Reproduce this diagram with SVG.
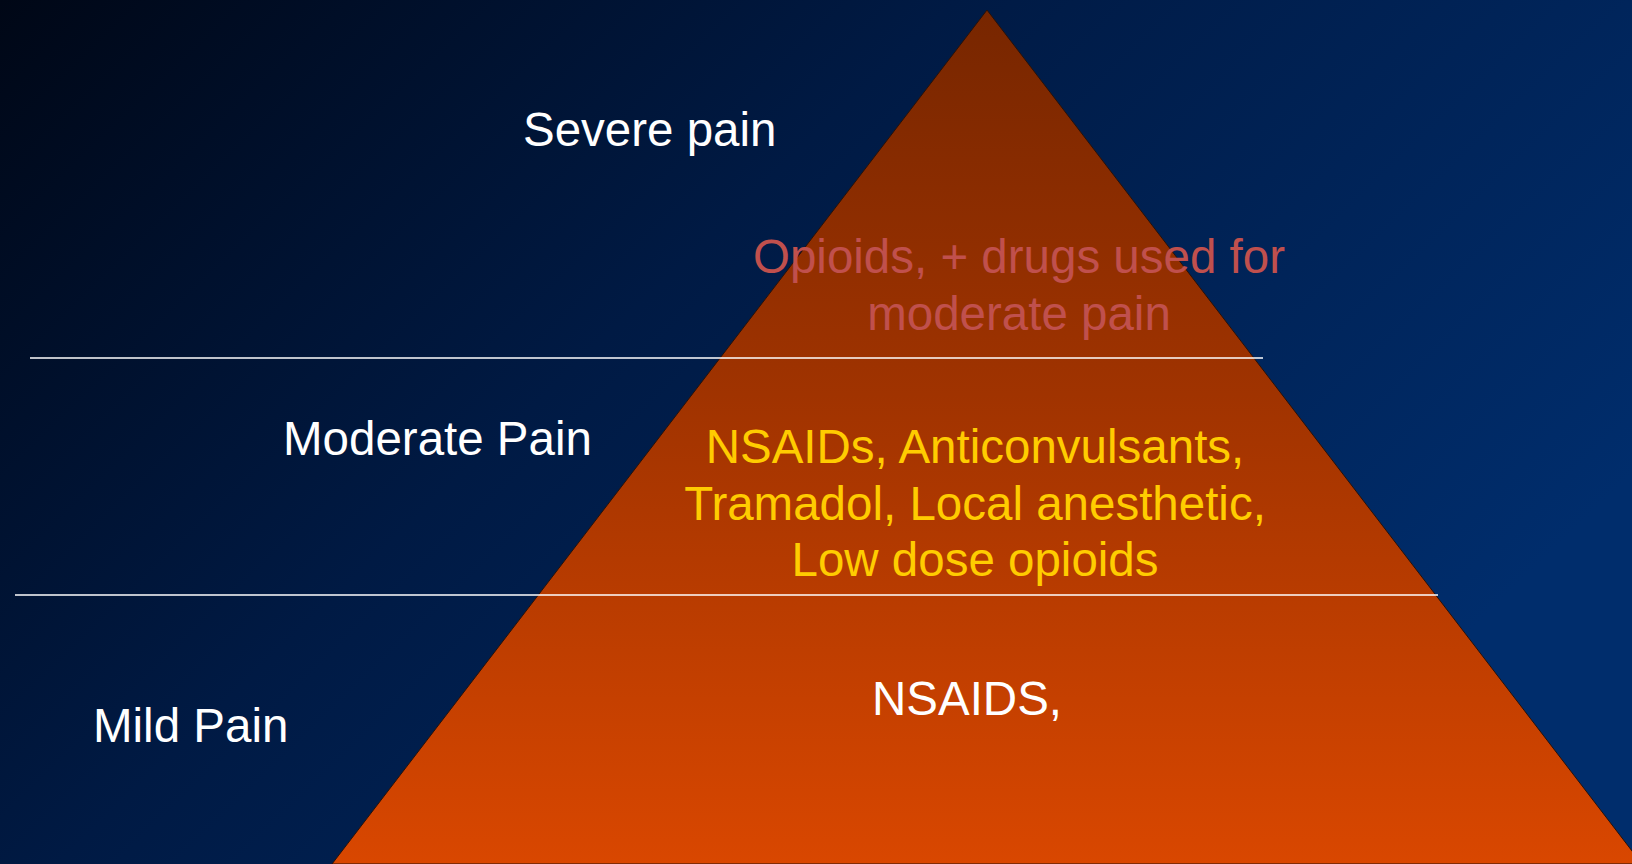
<svg xmlns="http://www.w3.org/2000/svg" width="1632" height="864" viewBox="0 0 1632 864">
  <defs>
    <linearGradient id="bg" x1="0" y1="0" x2="1" y2="0.55">
      <stop offset="0" stop-color="#000716"/>
      <stop offset="0.45" stop-color="#001a44"/>
      <stop offset="1" stop-color="#002d6c"/>
    </linearGradient>
    <linearGradient id="pyr" x1="0" y1="10" x2="0" y2="864" gradientUnits="userSpaceOnUse">
      <stop offset="0" stop-color="#772600"/>
      <stop offset="0.45" stop-color="#a03300"/>
      <stop offset="1" stop-color="#d94700"/>
    </linearGradient>
    <style>
      text { font-family: "Liberation Sans", Arial, sans-serif; font-size: 47.5px; }
      .lvl { fill: #ffffff; }
      .top { fill: #c0504d; text-anchor: middle; }
      .mid { fill: #ffcc00; text-anchor: middle; }
      .low { fill: #ffffff; }
      .div { stroke: #ffffff; stroke-width: 1.5; }
    </style>
  </defs>

  <rect x="0" y="0" width="1632" height="864" fill="url(#bg)"/>

  <!-- pyramid body -->
  <g id="pyramid">
    <polygon points="987,10 332,864 1642,864" fill="url(#pyr)" stroke="#2a1208" stroke-width="1"/>
  </g>

  <!-- tier dividers -->
  <g id="dividers">
    <line class="div" x1="30" y1="358" x2="1263" y2="358"/>
    <line class="div" x1="15" y1="595" x2="1438" y2="595"/>
  </g>

  <g id="severe-label">
    <text class="lvl" x="523" y="146">Severe pain</text>
  </g>
  <g id="severe-drugs">
    <text class="top" x="1019" y="273">Opioids, + drugs used for</text>
    <text class="top" x="1019" y="330">moderate pain</text>
  </g>

  <g id="moderate-label">
    <text class="lvl" x="283" y="455">Moderate Pain</text>
  </g>
  <g id="moderate-drugs">
    <text class="mid" x="975" y="463">NSAIDs, Anticonvulsants,</text>
    <text class="mid" x="975" y="520">Tramadol, Local anesthetic,</text>
    <text class="mid" x="975" y="576">Low dose opioids</text>
  </g>

  <g id="mild-label">
    <text class="lvl" x="93" y="742">Mild Pain</text>
  </g>
  <g id="mild-drugs">
    <text class="low" x="872" y="715">NSAIDS,</text>
  </g>
</svg>
